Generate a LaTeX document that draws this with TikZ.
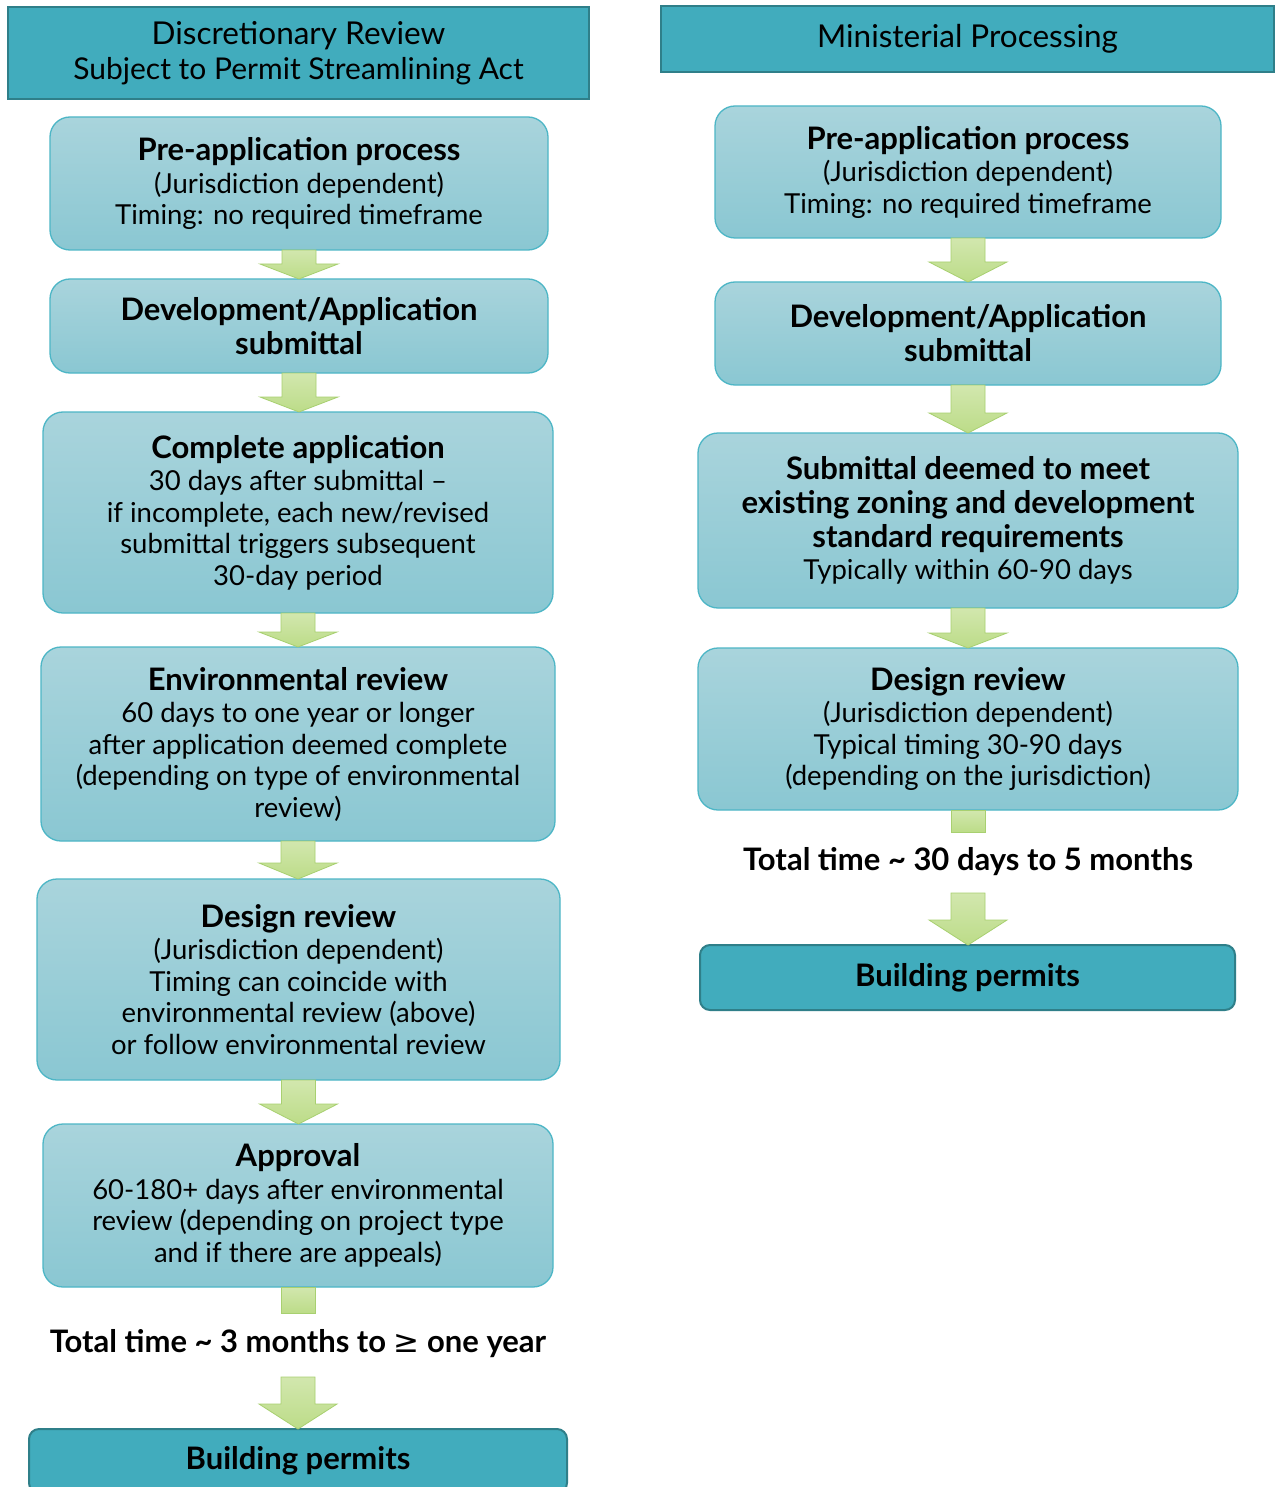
\documentclass[tikz,border=0pt]{standalone}
\usepackage{fontspec}
\setmainfont{Lato}
\newfontfamily\symfont{DejaVu Sans}
\usetikzlibrary{calc}
\definecolor{boxtop}{HTML}{A9D4DC}
\definecolor{boxbot}{HTML}{8AC7D2}
\definecolor{boxedge}{HTML}{4DB6C6}
\definecolor{headfill}{HTML}{41ACBD}
\definecolor{headedge}{HTML}{2F7F89}
\definecolor{artop}{HTML}{D2E7AE}
\definecolor{arbot}{HTML}{BCDC88}
\definecolor{aredge}{HTML}{A8D070}
\newcommand{\ttl}[1]{{\bfseries\fontsize{31}{34.5}\selectfont #1}}
\newcommand{\garr}[3]{\path[garrowst] let \p1=#1, \p2=#2 in
  (\x1-17pt,\y1) -- (\x1-17pt,\y2+#3pt) -- (\x1-39pt,\y2+#3pt) -- (\x1,\y2)
  -- (\x1+39pt,\y2+#3pt) -- (\x1+17pt,\y2+#3pt) -- (\x1+17pt,\y1) -- cycle;}
\newcommand{\gshaft}[2]{\path[garrowst] let \p1=#1, \p2=#2 in
  (\x1-17pt,\y1) rectangle (\x1+17pt,\y2);}
\begin{document}
\begin{tikzpicture}[x=1pt,y=-1pt,
  procbox/.style={draw=boxedge, line width=1.3pt, top color=boxtop, bottom color=boxbot,
    rounded corners=20pt, inner sep=0pt, outer sep=0pt, align=center,
    font=\fontsize{27.5}{31.5}\selectfont},
  headbox/.style={draw=headedge, line width=2.2pt, fill=headfill, inner sep=0pt,
    outer sep=0pt, align=center, font=\fontsize{31.5}{35}\selectfont},
  permbox/.style={draw=headedge, line width=2pt, fill=headfill, rounded corners=10pt,
    inner sep=0pt, outer sep=0pt, align=center, font=\bfseries\fontsize{31}{34}\selectfont},
  totaltxt/.style={inner sep=0pt, font=\bfseries\fontsize{31}{34}\selectfont},
  garrowst/.style={draw=aredge, line width=0.8pt, top color=artop, bottom color=arbot}
]
\useasboundingbox (0,0) rectangle (1277,1487);
\fill[white] (0,0) rectangle (1277,1487);

% ---------- left column ----------
\node[headbox, minimum width=581pt, minimum height=92pt] (hL) at (298.5,53)
  {Discretionary Review\\ {\fontsize{30}{35}\selectfont Subject to Permit Streamlining Act}};
\node[procbox, minimum width=498pt, minimum height=133pt] (b1) at (299,183.5)
  {\ttl{Pre-application process}\\[1pt] (Jurisdiction dependent)\\ Timing: no required timeframe};
\node[procbox, minimum width=498pt, minimum height=94pt] (b2) at (299,326)
  {\ttl{Development/Application}\\[2.5pt] \ttl{submittal}};
\node[procbox, minimum width=510pt, minimum height=201pt] (b3) at (298,512.5)
  {\ttl{Complete application}\\[1pt] 30 days after submittal --\\ if incomplete, each new/revised\\ submittal triggers subsequent\\ 30-day period};
\node[procbox, minimum width=514pt, minimum height=194pt] (b4) at (298,744)
  {\ttl{Environmental review}\\[1pt] 60 days to one year or longer\\ after application deemed complete\\ (depending on type of environmental\\ review)};
\node[procbox, minimum width=523pt, minimum height=201pt] (b5) at (298.5,979.5)
  {\ttl{Design review}\\[1pt] (Jurisdiction dependent)\\ Timing can coincide with\\ environmental review (above)\\ or follow environmental review};
\node[procbox, minimum width=510pt, minimum height=163pt] (b6) at (298,1205.5)
  {\ttl{Approval}\\[1pt] 60-180+ days after environmental\\ review (depending on project type\\ and if there are appeals)};
\coordinate (sL) at (298,1313);
\node[totaltxt] (tL) at (298,1344) {Total time \textasciitilde{} 3 months to {\symfont\mdseries ≥} one year};
\coordinate (aL) at (298,1377);
\node[permbox, minimum width=538pt, minimum height=64pt] (pL) at (298,1461) {Building permits};

\garr{(b1.south)}{(b2.north)}{15}
\garr{(b2.south)}{(b3.north)}{15}
\garr{(b3.south)}{(b4.north)}{15}
\garr{(b4.south)}{(b5.north)}{16}
\garr{(b5.south)}{(b6.north)}{20}
\gshaft{(b6.south)}{(sL)}
\garr{(aL)}{(pL.north)}{25}

% ---------- right column ----------
\node[headbox, minimum width=613pt, minimum height=66pt] (hR) at (967.5,39)
  {Ministerial Processing};
\node[procbox, minimum width=506pt, minimum height=132pt] (r1) at (968,172)
  {\ttl{Pre-application process}\\[1pt] (Jurisdiction dependent)\\ Timing: no required timeframe};
\node[procbox, minimum width=506pt, minimum height=103pt] (r2) at (968,333.5)
  {\ttl{Development/Application}\\[2.5pt] \ttl{submittal}};
\node[procbox, minimum width=540pt, minimum height=175pt] (r3) at (968,520.5)
  {\ttl{Submittal deemed to meet}\\[2.5pt] \ttl{existing zoning and development}\\[2.5pt] \ttl{standard requirements}\\[1pt] Typically within 60-90 days};
\node[procbox, minimum width=540pt, minimum height=162pt] (r4) at (968,729)
  {\ttl{Design review}\\[1pt] (Jurisdiction dependent)\\ Typical timing 30-90 days\\ (depending on the jurisdiction)};
\coordinate (sR) at (968,832);
\node[totaltxt] (tR) at (968,862) {Total time \textasciitilde{} 30 days to 5 months};
\coordinate (aR) at (968,893);
\node[permbox, minimum width=535pt, minimum height=65pt] (pR) at (967.5,977.5) {Building permits};

\garr{(r1.south)}{(r2.north)}{20}
\garr{(r2.south)}{(r3.north)}{20}
\garr{(r3.south)}{(r4.north)}{15}
\gshaft{(r4.south)}{(sR)}
\garr{(aR)}{(pR.north)}{25}
\end{tikzpicture}
\end{document}
